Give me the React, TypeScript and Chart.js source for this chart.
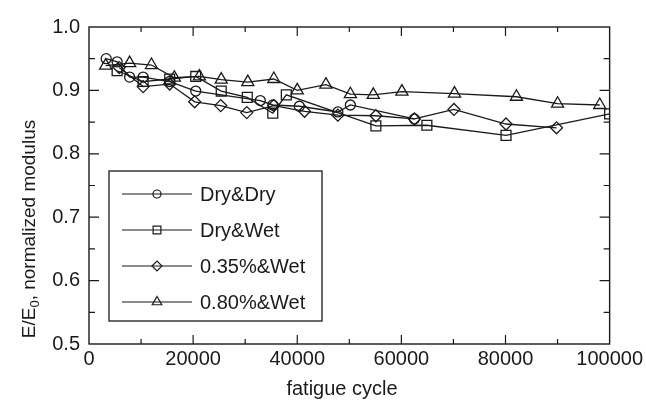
import React, { useEffect, useRef } from 'react';
import { Chart, registerables } from 'chart.js';

Chart.register(...registerables);

// ---- data ----
const dryDryCycles = [3300, 5400, 7800, 10400, 15500, 20500, 32900, 35300, 40400, 47800, 50200, 62500];
const dryDryModulus = [0.950, 0.945, 0.921, 0.921, 0.914, 0.899, 0.884, 0.877, 0.875, 0.866, 0.877, 0.855];

const dryWetCycles = [5400, 10400, 15500, 20500, 25400, 30400, 35300, 37900, 55100, 64900, 80100, 100000];
const dryWetModulus = [0.931, 0.914, 0.918, 0.922, 0.899, 0.889, 0.864, 0.893, 0.844, 0.845, 0.829, 0.863];

const p035WetCycles = [5800, 10400, 15500, 20300, 25300, 30300, 35500, 41400, 47800, 55100, 62500, 70100, 80100, 89800];
const p035WetModulus = [0.936, 0.906, 0.910, 0.882, 0.876, 0.865, 0.876, 0.867, 0.861, 0.860, 0.855, 0.870, 0.847, 0.841];

const p080WetCycles = [3200, 7800, 12000, 16400, 21200, 25400, 30500, 35500, 40000, 45500, 50200, 54600, 60100, 70200, 82100, 90000, 98100];
const p080WetModulus = [0.939, 0.943, 0.940, 0.920, 0.922, 0.917, 0.913, 0.918, 0.900, 0.909, 0.894, 0.893, 0.898, 0.895, 0.890, 0.879, 0.877];

const seriesLabels = ['Dry&Dry', 'Dry&Wet', '0.35%&Wet', '0.80%&Wet'];
const seriesStyles = ['circle', 'rect', 'rectRot', 'triangle'];

const xMin = 0;
const xMax = 100000;
const xStep = 20000;
const yMin = 0.5;
const yMax = 1.0;
const yStep = 0.1;

const xTitle = 'fatigue cycle';
const yTitleMain = 'E/E';
const yTitleSub = '0';
const yTitleRest = ', normalized modulus';

const INK = '#1a1a1a';
const FONT = '"Liberation Sans", Arial, Helvetica, sans-serif';

function drawMarker(ctx: CanvasRenderingContext2D, style: string, x: number, y: number, r: number) {
  ctx.beginPath();
  if (style === 'circle') {
    ctx.arc(x, y, r, 0, Math.PI * 2);
  } else if (style === 'rect') {
    const s = r * Math.SQRT1_2;
    ctx.rect(x - s, y - s, 2 * s, 2 * s);
  } else if (style === 'rectRot') {
    ctx.moveTo(x - r, y);
    ctx.lineTo(x, y - r);
    ctx.lineTo(x + r, y);
    ctx.lineTo(x, y + r);
    ctx.closePath();
  } else {
    ctx.moveTo(x, y - r);
    ctx.lineTo(x + 0.866 * r, y + 0.5 * r);
    ctx.lineTo(x - 0.866 * r, y + 0.5 * r);
    ctx.closePath();
  }
  ctx.stroke();
}

const decorPlugin = {
  id: 'decor',
  afterDraw(chart: any) {
    const ctx: CanvasRenderingContext2D = chart.ctx;
    const { left, right, top, bottom } = chart.chartArea;
    const xs = chart.scales.x;
    const ys = chart.scales.y;
    ctx.save();
    ctx.strokeStyle = INK;
    ctx.lineWidth = 1.4;
    ctx.strokeRect(left, top, right - left, bottom - top);

    // inward ticks
    ctx.lineWidth = 1.2;
    for (let v = xMin + xStep / 2; v < xMax; v += xStep / 2) {
      const px = xs.getPixelForValue(v);
      const major = Math.round(v / (xStep / 2)) % 2 === 0;
      const len = major ? 9 : 5;
      ctx.beginPath();
      ctx.moveTo(px, bottom);
      ctx.lineTo(px, bottom - len);
      ctx.moveTo(px, top);
      ctx.lineTo(px, top + len);
      ctx.stroke();
    }
    for (let i = 1; i < Math.round((yMax - yMin) / (yStep / 2)); i++) {
      const v = yMin + i * (yStep / 2);
      const py = ys.getPixelForValue(v);
      const major = i % 2 === 0;
      const len = major ? 10 : 6;
      ctx.beginPath();
      ctx.moveTo(left, py);
      ctx.lineTo(left + len, py);
      ctx.moveTo(right, py);
      ctx.lineTo(right - len, py);
      ctx.stroke();
    }

    // legend box
    const lx0 = 109, ly0 = 171, lx1 = 322, ly1 = 321;
    ctx.fillStyle = '#ffffff';
    ctx.fillRect(lx0, ly0, lx1 - lx0, ly1 - ly0);
    ctx.lineWidth = 1.3;
    ctx.strokeRect(lx0, ly0, lx1 - lx0, ly1 - ly0);
    const rowY = [194, 230, 266, 302];
    const legendR = [4, 5.5, 5, 5.5];
    ctx.font = `20px ${FONT}`;
    ctx.textBaseline = 'middle';
    ctx.textAlign = 'left';
    ctx.fillStyle = INK;
    seriesLabels.forEach((lab, i) => {
      const y = rowY[i];
      ctx.lineWidth = 1.2;
      ctx.beginPath();
      ctx.moveTo(122, y);
      ctx.lineTo(192, y);
      ctx.stroke();
      drawMarker(ctx, seriesStyles[i], 157, y, legendR[i]);
      ctx.fillText(lab, 200, y + 1);
    });

    // x title
    ctx.font = `20px ${FONT}`;
    ctx.textAlign = 'center';
    ctx.textBaseline = 'middle';
    ctx.fillText(xTitle, 342, 389);

    // y title with subscript
    ctx.translate(29, 229);
    ctx.rotate(-Math.PI / 2);
    ctx.font = `19px ${FONT}`;
    const wMain = ctx.measureText(yTitleMain).width;
    ctx.font = `13px ${FONT}`;
    const wSub = ctx.measureText(yTitleSub).width;
    ctx.font = `19px ${FONT}`;
    const wRest = ctx.measureText(yTitleRest).width;
    const total = wMain + wSub + wRest;
    let cx = -total / 2;
    ctx.textAlign = 'left';
    ctx.textBaseline = 'alphabetic';
    ctx.fillText(yTitleMain, cx, 6);
    cx += wMain;
    ctx.font = `13px ${FONT}`;
    ctx.fillText(yTitleSub, cx, 10);
    cx += wSub;
    ctx.font = `19px ${FONT}`;
    ctx.fillText(yTitleRest, cx, 6);
    ctx.restore();
  },
};

function makeDataset(label: string, xs: number[], ys: number[], style: string, r: number) {
  return {
    label,
    data: xs.map((x, i) => ({ x, y: ys[i] })),
    borderColor: INK,
    borderWidth: 1.3,
    pointStyle: style,
    pointRadius: r,
    pointBorderWidth: 1.3,
    pointBorderColor: INK,
    pointBackgroundColor: 'rgba(0,0,0,0)',
    tension: 0,
    fill: false,
  };
}

export default function App() {
  const ref = useRef<HTMLCanvasElement | null>(null);
  useEffect(() => {
    if (!ref.current) return;
    const chart = new Chart(ref.current, {
      type: 'line',
      data: {
        datasets: [
          makeDataset(seriesLabels[0], dryDryCycles, dryDryModulus, 'circle', 5),
          makeDataset(seriesLabels[1], dryWetCycles, dryWetModulus, 'rect', 7),
          makeDataset(seriesLabels[2], p035WetCycles, p035WetModulus, 'rectRot', 6),
          makeDataset(seriesLabels[3], p080WetCycles, p080WetModulus, 'triangle', 7),
        ] as any,
      },
      options: {
        animation: false,
        responsive: true,
        maintainAspectRatio: false,
        layout: { padding: { top: 27, right: 35, left: 0, bottom: 0 } },
        plugins: { legend: { display: false }, tooltip: { enabled: false } },
        scales: {
          x: {
            type: 'linear',
            min: xMin,
            max: xMax,
            grid: { display: false, drawTicks: false },
            border: { display: false },
            ticks: {
              stepSize: xStep,
              padding: 3,
              color: INK,
              font: { size: 20, family: FONT },
              maxRotation: 0,
              callback: (v: any) => String(v),
            },
            afterFit: (s: any) => { s.height = 57; },
          },
          y: {
            type: 'linear',
            min: yMin,
            max: yMax,
            grid: { display: false, drawTicks: false },
            border: { display: false },
            ticks: {
              stepSize: yStep,
              padding: 9,
              color: INK,
              font: { size: 20, family: FONT },
              callback: (v: any) => Number(v).toFixed(1),
            },
            afterFit: (s: any) => { s.width = 89; },
          },
        },
      } as any,
      plugins: [decorPlugin],
    });
    return () => chart.destroy();
  }, []);
  return (
    <div style={{ position: 'fixed', left: 0, top: 0, width: 646, height: 401, background: '#fff' }}>
      <canvas ref={ref} />
    </div>
  );
}
